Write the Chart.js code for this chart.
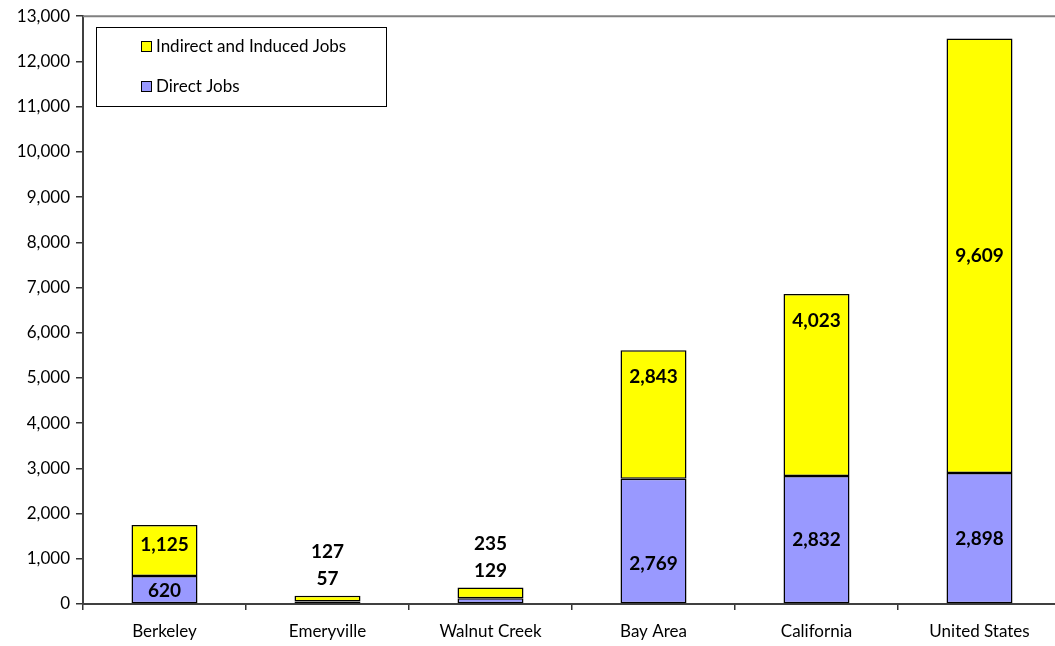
<!DOCTYPE html>
<html>
<head>
<meta charset="utf-8">
<script src="https://cdn.jsdelivr.net/npm/chart.js@4"></script>
<style>
  html, body { margin: 0; padding: 0; background: #fff; overflow: hidden; }
  #wrap { width: 1055px; height: 646px; overflow: hidden; }
</style>
</head>
<body>
<div id="wrap"><canvas id="jobsChart" width="1062" height="646"></canvas></div>
<script>
const categories = ['Berkeley', 'Emeryville', 'Walnut Creek', 'Bay Area', 'California', 'United States'];
const directJobs = [620, 57, 129, 2769, 2832, 2898];
const indirectJobs = [1125, 127, 235, 2843, 4023, 9609];
const yTicks = [0, 1000, 2000, 3000, 4000, 5000, 6000, 7000, 8000, 9000, 10000, 11000, 12000, 13000];

// where the label sits inside its segment (0 = bottom, 1 = top), as in the original
const directLabelAt = [0.46, 0.5, 0.5, 0.32, 0.5, 0.5];
const indirectLabelAt = [0.61, 0.5, 0.5, 0.79, 0.85, 0.5];

const FONT = 'Lato, "DejaVu Sans", sans-serif';
const fmt = v => v.toLocaleString('en-US');

const labelsPlugin = {
    id: 'segLabels',
    afterDatasetsDraw(chart) {
        const ctx = chart.ctx;
        const y = chart.scales.y;
        ctx.save();
        ctx.font = 'bold 19px ' + FONT;
        ctx.fillStyle = '#000';
        ctx.textAlign = 'center';
        ctx.textBaseline = 'middle';
        const metaD = chart.getDatasetMeta(0);
        categories.forEach((c, i) => {
            const x = metaD.data[i].x;
            const d = directJobs[i], ind = indirectJobs[i];
            const topPx = y.getPixelForValue(d + ind);
            if (y.getPixelForValue(0) - topPx < 30) {
                // small bar: labels stacked above it
                ctx.fillText(fmt(d), x, topPx - 17);
                ctx.fillText(fmt(ind), x, topPx - 44);
            } else {
                ctx.fillText(fmt(d), x, y.getPixelForValue(d * directLabelAt[i]));
                ctx.fillText(fmt(ind), x, y.getPixelForValue(d + ind * indirectLabelAt[i]));
            }
        });
        ctx.restore();
    }
};

const frameAndLegend = {
    id: 'frameAndLegend',
    afterDraw(chart) {
        const ctx = chart.ctx;
        const a = chart.chartArea;
        ctx.save();
        // top border of plot
        ctx.strokeStyle = '#808080';
        ctx.lineWidth = 2;
        ctx.beginPath();
        ctx.moveTo(a.left, a.top);
        ctx.lineTo(a.right, a.top);
        ctx.stroke();

        // legend box
        ctx.fillStyle = '#fff';
        ctx.fillRect(96.5, 27.5, 290, 79);
        ctx.strokeStyle = '#000';
        ctx.lineWidth = 1;
        ctx.strokeRect(96.5, 27.5, 290, 79);
        const items = [
            { text: 'Indirect and Induced Jobs', color: '#FFFF00', y: 47 },
            { text: 'Direct Jobs', color: '#9999FF', y: 87 }
        ];
        ctx.font = '17px ' + FONT;
        ctx.textBaseline = 'middle';
        items.forEach(it => {
            ctx.fillStyle = it.color;
            ctx.fillRect(141.5, it.y - 5.5, 10, 10);
            ctx.strokeStyle = '#000';
            ctx.strokeRect(141.5, it.y - 5.5, 10, 10);
            ctx.fillStyle = '#000';
            ctx.fillText(it.text, 156, it.y);
        });
        ctx.restore();
    }
};

new Chart(document.getElementById('jobsChart'), {
    type: 'bar',
    data: {
        labels: categories,
        datasets: [
            {
                label: 'Direct Jobs',
                data: directJobs,
                backgroundColor: '#9999FF',
                borderColor: '#000',
                borderWidth: 1.5,
                borderSkipped: false,
                categoryPercentage: 1,
                barPercentage: 0.405
            },
            {
                label: 'Indirect and Induced Jobs',
                data: indirectJobs,
                backgroundColor: '#FFFF00',
                borderColor: '#000',
                borderWidth: 1.5,
                borderSkipped: false,
                categoryPercentage: 1,
                barPercentage: 0.405
            }
        ]
    },
    options: {
        responsive: false,
        animation: false,
        layout: { padding: { top: 11, right: 1, left: 0, bottom: 0 } },
        plugins: {
            legend: { display: false },
            tooltip: { enabled: false }
        },
        scales: {
            x: {
                stacked: true,
                grid: { display: true, drawOnChartArea: false, offset: true, tickLength: 6, color: '#333', lineWidth: 1.5 },
                border: { color: '#404040', width: 2 },
                ticks: { color: '#000', font: { family: FONT, size: 17 }, padding: 11, maxRotation: 0 },
                afterFit: s => { s.height = 42; }
            },
            y: {
                stacked: true,
                min: 0,
                max: 13000,
                grid: { display: true, drawOnChartArea: false, tickLength: 7, color: '#333', lineWidth: 1.5 },
                border: { color: '#404040', width: 2 },
                afterBuildTicks: s => { s.ticks = yTicks.map(v => ({ value: v })); },
                ticks: { color: '#000', font: { family: FONT, size: 17 }, padding: 6, callback: v => fmt(v) },
                afterFit: s => { s.width = 83; }
            }
        }
    },
    plugins: [labelsPlugin, frameAndLegend]
});
</script>
</body>
</html>
